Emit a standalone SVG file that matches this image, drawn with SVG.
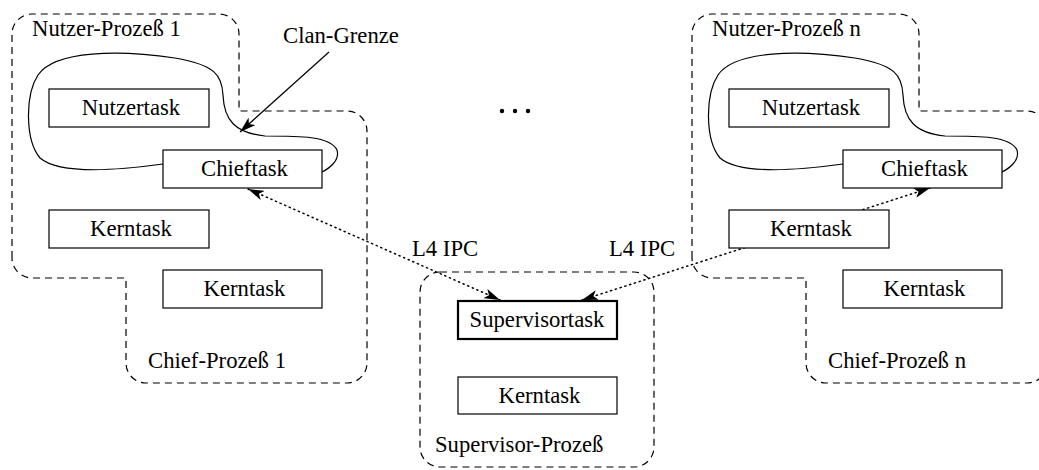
<svg xmlns="http://www.w3.org/2000/svg" width="1039" height="470" viewBox="0 0 1039 470">
<style>
  .bg { fill: #ffffff; }
  .outline { fill: none; stroke: #000; stroke-width: 1.2; stroke-dasharray: 7 5; }
  .clan { fill: none; stroke: #000; stroke-width: 1.2; }
  .box { fill: #fff; stroke: #000; stroke-width: 1.2; }
  .boxbold { fill: #fff; stroke: #000; stroke-width: 2.2; }
  text { font-family: "Liberation Serif", "Times New Roman", serif; font-size: 22.7px; fill: #000; }
  .c { text-anchor: middle; }
  .dot { fill: none; stroke: #000; stroke-width: 1.5; stroke-dasharray: 1.2 3.8; stroke-linecap: round; }
  .solid { fill: none; stroke: #000; stroke-width: 1.2; }
</style>
<defs>
  <marker id="arr" viewBox="0 0 16 10" refX="16" refY="5" markerWidth="16" markerHeight="10" markerUnits="userSpaceOnUse" orient="auto-start-reverse">
    <path d="M0,0 L16,5 L0,10 L4,5 Z" fill="#000"/>
  </marker>
  <path id="procOutline" d="M12,258 L12,34 A20,20 0 0 1 32,14 L219,14 A20,20 0 0 1 239,34 L239,111 L347,111 A20,20 0 0 1 367,131 L367,363 A20,20 0 0 1 347,383 L146,383 A20,20 0 0 1 126,363 L126,278 L32,278 A20,20 0 0 1 12,258 Z"/>
  <path id="clanCurve" d="M163,164 C120,170 60,175 40,158 C25,140 25,95 38,75 C55,50 120,50 175,58 C215,65 222,75 223,95 C224,120 235,133 265,136 C300,136 330,136 337,150 C340,160 330,168 322,172 Z"/>
</defs>
<rect class="bg" x="0" y="0" width="1039" height="470"/>

<g id="group1">
  <use href="#procOutline" class="outline"/>
  <use href="#clanCurve" class="clan"/>
  <text x="32" y="36">Nutzer-Prozeß 1</text>
  <text x="148" y="368">Chief-Prozeß 1</text>
</g>
<g id="groupN" transform="translate(680,0)">
  <use href="#procOutline" class="outline"/>
  <use href="#clanCurve" class="clan"/>
  <text x="32" y="36">Nutzer-Prozeß n</text>
  <text x="148" y="368">Chief-Prozeß n</text>
</g>
<g id="supervisorGroup">
  <rect class="outline" x="420" y="272" width="234" height="195" rx="20" ry="20"/>
  <text x="435" y="452">Supervisor-Prozeß</text>
</g>

<g id="connectors">
  <line class="solid" x1="329" y1="52" x2="240" y2="132" marker-end="url(#arr)"/>
  <line class="dot" x1="248" y1="189" x2="500" y2="300" marker-start="url(#arr)" marker-end="url(#arr)"/>
  <line class="dot" x1="582" y1="300" x2="930" y2="188" marker-start="url(#arr)" marker-end="url(#arr)"/>
</g>

<g id="nutzertask1">
  <rect class="box" x="49" y="89" width="160" height="38"/>
  <text class="c" x="131" y="115">Nutzertask</text>
</g>
<g id="chieftask1">
  <rect class="box" x="163" y="150" width="159" height="38"/>
  <text class="c" x="244.5" y="176">Chieftask</text>
</g>
<g id="kerntask1a">
  <rect class="box" x="49" y="210" width="160" height="38"/>
  <text class="c" x="131" y="236">Kerntask</text>
</g>
<g id="kerntask1b">
  <rect class="box" x="163" y="270" width="159" height="38"/>
  <text class="c" x="244.5" y="296">Kerntask</text>
</g>

<g id="nutzertaskN">
  <rect class="box" x="729" y="89" width="160" height="38"/>
  <text class="c" x="811" y="115">Nutzertask</text>
</g>
<g id="chieftaskN">
  <rect class="box" x="843" y="150" width="159" height="38"/>
  <text class="c" x="924.5" y="176">Chieftask</text>
</g>
<g id="kerntaskNa">
  <rect class="box" x="729" y="210" width="160" height="38"/>
  <text class="c" x="811" y="236">Kerntask</text>
</g>
<g id="kerntaskNb">
  <rect class="box" x="843" y="270" width="159" height="38"/>
  <text class="c" x="924.5" y="296">Kerntask</text>
</g>

<g id="supervisortask">
  <rect class="boxbold" x="458" y="301" width="159" height="38"/>
  <text class="c" x="537" y="327">Supervisortask</text>
</g>
<g id="kerntaskS">
  <rect class="box" x="458" y="377" width="159" height="37"/>
  <text class="c" x="539.5" y="403">Kerntask</text>
</g>

<g id="labels">
  <text x="283" y="43">Clan-Grenze</text>
  <text x="412" y="256">L4 IPC</text>
  <text x="609" y="256">L4 IPC</text>
  <circle cx="502" cy="111" r="2.2" fill="#000"/>
  <circle cx="515" cy="111" r="2.2" fill="#000"/>
  <circle cx="528" cy="111" r="2.2" fill="#000"/>
</g>
</svg>
